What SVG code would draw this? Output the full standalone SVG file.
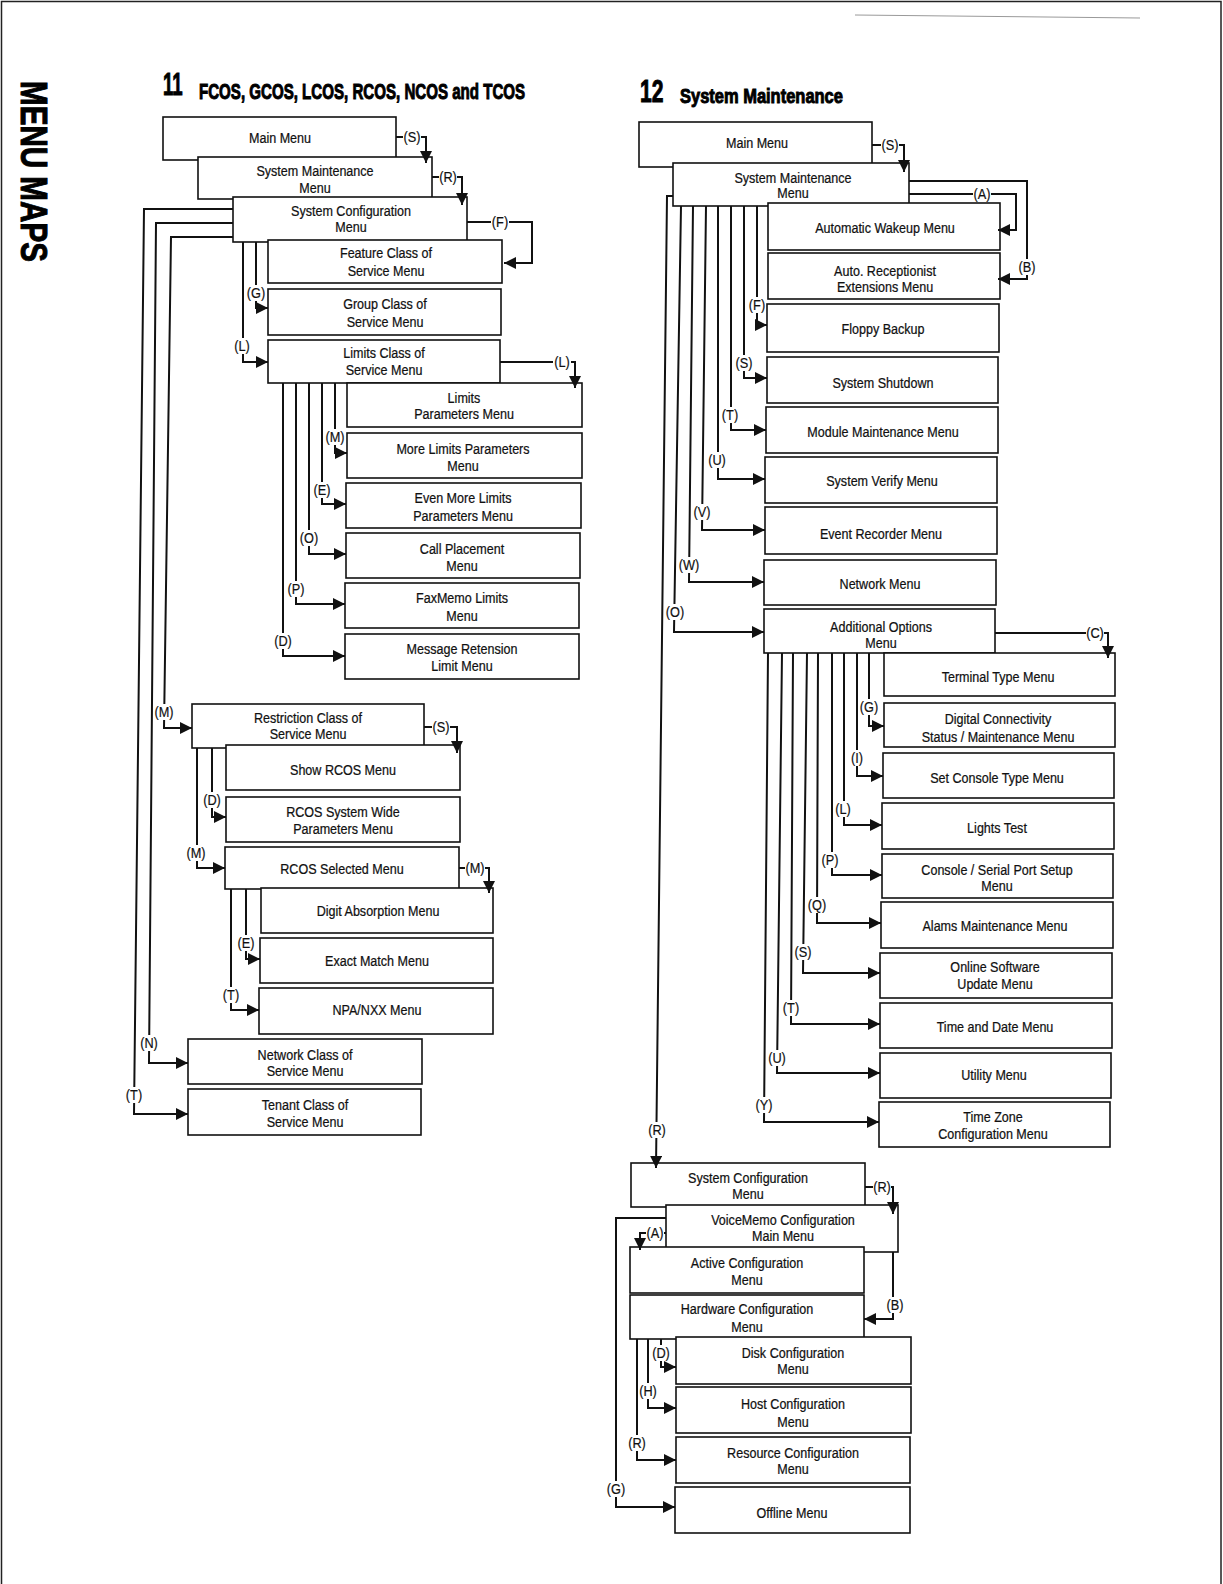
<svg xmlns="http://www.w3.org/2000/svg" width="1223" height="1584" viewBox="0 0 1223 1584">
<style>
.box{fill:#fff;stroke:#111;stroke-width:1.6}
.t{font-family:"Liberation Sans",Arial,sans-serif;font-size:15.5px;text-anchor:middle;fill:#111;stroke:#111;stroke-width:0.25}
.c{fill:none;stroke:#111;stroke-width:2;stroke-linejoin:miter;marker-end:url(#a)}
.lb{fill:#fff}
.lt{font-family:"Liberation Sans",Arial,sans-serif;font-size:15px;text-anchor:middle;fill:#111;stroke:#111;stroke-width:0.2}
.h{font-family:"Liberation Sans",Arial,sans-serif;font-weight:bold;fill:#000;stroke:#000;stroke-width:1}
</style>
<defs>
<marker id="a" viewBox="0 0 10 10" refX="10" refY="5" markerWidth="12" markerHeight="12" markerUnits="userSpaceOnUse" orient="auto"><path d="M0,0 L10,5 L0,10 z" fill="#111"/></marker>
</defs>
<rect width="1223" height="1584" fill="#fff"/>
<path d="M1.5,1584 V1.5 H1221 V1584" fill="none" stroke="#222" stroke-width="1.5"/>
<path d="M855,15 L1140,18" stroke="#999" stroke-width="1"/>
<g transform="translate(21,81) rotate(90) scale(.8 1)"><text class="h" font-size="37">MENU MAPS</text></g>
<g transform="translate(163,95) scale(.6 1)"><text class="h" font-size="31">11</text></g>
<g transform="translate(199,99) scale(.686 1)"><text class="h" font-size="22" stroke-width="0.9">FCOS, GCOS, LCOS, RCOS, NCOS and TCOS</text></g>
<g transform="translate(640,102) scale(.68 1)"><text class="h" font-size="31">12</text></g>
<g transform="translate(680,103) scale(.785 1)"><text class="h" font-size="21" stroke-width="0.9">System Maintenance</text></g>

<g id="left-nodes">
<g id="l-main"><rect class="box" x="163" y="117" width="233" height="43"/><g transform="translate(280 0) scale(.81 1)"><text class="t" y="143">Main Menu</text></g></g>
<g id="l-sysmaint"><rect class="box" x="198" y="157" width="234" height="42"/><g transform="translate(315 0) scale(.81 1)"><text class="t" y="176">System Maintenance</text><text class="t" y="193">Menu</text></g></g>
<g id="l-syscfg"><rect class="box" x="233" y="197" width="234" height="45"/><g transform="translate(351 0) scale(.81 1)"><text class="t" y="216">System Configuration</text><text class="t" y="232">Menu</text></g></g>
<g id="l-fcos"><rect class="box" x="268" y="240" width="234" height="43"/><g transform="translate(386 0) scale(.81 1)"><text class="t" y="258">Feature Class of</text><text class="t" y="276">Service Menu</text></g></g>
<g id="l-gcos"><rect class="box" x="268" y="289" width="233" height="46"/><g transform="translate(385 0) scale(.81 1)"><text class="t" y="309">Group Class of</text><text class="t" y="327">Service Menu</text></g></g>
<g id="l-lcos"><rect class="box" x="268" y="340" width="232" height="43"/><g transform="translate(384 0) scale(.81 1)"><text class="t" y="358">Limits Class of</text><text class="t" y="375">Service Menu</text></g></g>
<g id="l-limparam"><rect class="box" x="347" y="383" width="235" height="44"/><g transform="translate(464 0) scale(.81 1)"><text class="t" y="403">Limits</text><text class="t" y="419">Parameters Menu</text></g></g>
<g id="l-morelim"><rect class="box" x="347" y="433" width="235" height="45"/><g transform="translate(463 0) scale(.81 1)"><text class="t" y="454">More Limits Parameters</text><text class="t" y="471">Menu</text></g></g>
<g id="l-evenmore"><rect class="box" x="346" y="483" width="235" height="45"/><g transform="translate(463 0) scale(.81 1)"><text class="t" y="503">Even More Limits</text><text class="t" y="521">Parameters Menu</text></g></g>
<g id="l-callplace"><rect class="box" x="346" y="533" width="234" height="45"/><g transform="translate(462 0) scale(.81 1)"><text class="t" y="554">Call Placement</text><text class="t" y="571">Menu</text></g></g>
<g id="l-faxmemo"><rect class="box" x="345" y="583" width="234" height="45"/><g transform="translate(462 0) scale(.81 1)"><text class="t" y="603">FaxMemo Limits</text><text class="t" y="621">Menu</text></g></g>
<g id="l-msgret"><rect class="box" x="345" y="634" width="234" height="45"/><g transform="translate(462 0) scale(.81 1)"><text class="t" y="654">Message Retension</text><text class="t" y="671">Limit Menu</text></g></g>
<g id="l-rcos"><rect class="box" x="192" y="704" width="232" height="44"/><g transform="translate(308 0) scale(.81 1)"><text class="t" y="723">Restriction Class of</text><text class="t" y="739">Service Menu</text></g></g>
<g id="l-showrcos"><rect class="box" x="226" y="745" width="234" height="45"/><g transform="translate(343 0) scale(.81 1)"><text class="t" y="775">Show RCOS Menu</text></g></g>
<g id="l-rcoswide"><rect class="box" x="226" y="797" width="234" height="45"/><g transform="translate(343 0) scale(.81 1)"><text class="t" y="817">RCOS System Wide</text><text class="t" y="834">Parameters Menu</text></g></g>
<g id="l-rcossel"><rect class="box" x="225" y="847" width="234" height="42"/><g transform="translate(342 0) scale(.81 1)"><text class="t" y="874">RCOS Selected Menu</text></g></g>
<g id="l-digit"><rect class="box" x="261" y="888" width="232" height="45"/><g transform="translate(378 0) scale(.81 1)"><text class="t" y="916">Digit Absorption Menu</text></g></g>
<g id="l-exact"><rect class="box" x="260" y="938" width="233" height="45"/><g transform="translate(377 0) scale(.81 1)"><text class="t" y="966">Exact Match Menu</text></g></g>
<g id="l-npa"><rect class="box" x="259" y="988" width="234" height="46"/><g transform="translate(377 0) scale(.81 1)"><text class="t" y="1015">NPA/NXX Menu</text></g></g>
<g id="l-ncos"><rect class="box" x="188" y="1039" width="234" height="45"/><g transform="translate(305 0) scale(.81 1)"><text class="t" y="1060">Network Class of</text><text class="t" y="1076">Service Menu</text></g></g>
<g id="l-tcos"><rect class="box" x="188" y="1089" width="233" height="46"/><g transform="translate(305 0) scale(.81 1)"><text class="t" y="1110">Tenant Class of</text><text class="t" y="1127">Service Menu</text></g></g>
</g>

<g id="right-nodes">
<g id="r-main"><rect class="box" x="639" y="122" width="233" height="45"/><g transform="translate(757 0) scale(.81 1)"><text class="t" y="148">Main Menu</text></g></g>
<g id="r-sysmaint"><rect class="box" x="673" y="163" width="236" height="43"/><g transform="translate(793 0) scale(.81 1)"><text class="t" y="183">System Maintenance</text><text class="t" y="198">Menu</text></g></g>
<g id="r-wakeup"><rect class="box" x="768" y="203" width="232" height="47"/><g transform="translate(885 0) scale(.81 1)"><text class="t" y="233">Automatic Wakeup Menu</text></g></g>
<g id="r-autorec"><rect class="box" x="768" y="253" width="232" height="46"/><g transform="translate(885 0) scale(.81 1)"><text class="t" y="276">Auto. Receptionist</text><text class="t" y="292">Extensions Menu</text></g></g>
<g id="r-floppy"><rect class="box" x="767" y="304" width="232" height="48"/><g transform="translate(883 0) scale(.81 1)"><text class="t" y="334">Floppy Backup</text></g></g>
<g id="r-shutdown"><rect class="box" x="767" y="357" width="231" height="46"/><g transform="translate(883 0) scale(.81 1)"><text class="t" y="388">System Shutdown</text></g></g>
<g id="r-module"><rect class="box" x="766" y="407" width="232" height="46"/><g transform="translate(883 0) scale(.81 1)"><text class="t" y="437">Module Maintenance Menu</text></g></g>
<g id="r-verify"><rect class="box" x="765" y="457" width="232" height="46"/><g transform="translate(882 0) scale(.81 1)"><text class="t" y="486">System Verify Menu</text></g></g>
<g id="r-event"><rect class="box" x="765" y="507" width="232" height="47"/><g transform="translate(881 0) scale(.81 1)"><text class="t" y="539">Event Recorder Menu</text></g></g>
<g id="r-network"><rect class="box" x="764" y="560" width="232" height="45"/><g transform="translate(880 0) scale(.81 1)"><text class="t" y="589">Network Menu</text></g></g>
<g id="r-addopt"><rect class="box" x="764" y="609" width="231" height="44"/><g transform="translate(881 0) scale(.81 1)"><text class="t" y="632">Additional Options</text><text class="t" y="648">Menu</text></g></g>
<g id="r-terminal"><rect class="box" x="884" y="653" width="231" height="43"/><g transform="translate(998 0) scale(.81 1)"><text class="t" y="682">Terminal Type Menu</text></g></g>
<g id="r-digital"><rect class="box" x="884" y="703" width="231" height="44"/><g transform="translate(998 0) scale(.81 1)"><text class="t" y="724">Digital Connectivity</text><text class="t" y="742">Status / Maintenance Menu</text></g></g>
<g id="r-console"><rect class="box" x="883" y="753" width="231" height="45"/><g transform="translate(997 0) scale(.81 1)"><text class="t" y="783">Set Console Type Menu</text></g></g>
<g id="r-lights"><rect class="box" x="882" y="803" width="232" height="46"/><g transform="translate(997 0) scale(.81 1)"><text class="t" y="833">Lights Test</text></g></g>
<g id="r-serial"><rect class="box" x="882" y="854" width="231" height="44"/><g transform="translate(997 0) scale(.81 1)"><text class="t" y="875">Console / Serial Port Setup</text><text class="t" y="891">Menu</text></g></g>
<g id="r-alarms"><rect class="box" x="881" y="902" width="232" height="46"/><g transform="translate(995 0) scale(.81 1)"><text class="t" y="931">Alams Maintenance Menu</text></g></g>
<g id="r-online"><rect class="box" x="880" y="953" width="232" height="45"/><g transform="translate(995 0) scale(.81 1)"><text class="t" y="972">Online Software</text><text class="t" y="989">Update Menu</text></g></g>
<g id="r-timedate"><rect class="box" x="880" y="1003" width="232" height="45"/><g transform="translate(995 0) scale(.81 1)"><text class="t" y="1032">Time and Date Menu</text></g></g>
<g id="r-utility"><rect class="box" x="880" y="1053" width="231" height="45"/><g transform="translate(994 0) scale(.81 1)"><text class="t" y="1080">Utility Menu</text></g></g>
<g id="r-timezone"><rect class="box" x="879" y="1102" width="231" height="45"/><g transform="translate(993 0) scale(.81 1)"><text class="t" y="1122">Time Zone</text><text class="t" y="1139">Configuration Menu</text></g></g>
<g id="r-syscfg"><rect class="box" x="631" y="1163" width="234" height="44"/><g transform="translate(748 0) scale(.81 1)"><text class="t" y="1183">System Configuration</text><text class="t" y="1199">Menu</text></g></g>
<g id="r-voicememo"><rect class="box" x="666" y="1205" width="232" height="47"/><g transform="translate(783 0) scale(.81 1)"><text class="t" y="1225">VoiceMemo Configuration</text><text class="t" y="1241">Main Menu</text></g></g>
<g id="r-active"><rect class="box" x="630" y="1247" width="234" height="46"/><g transform="translate(747 0) scale(.81 1)"><text class="t" y="1268">Active Configuration</text><text class="t" y="1285">Menu</text></g></g>
<g id="r-hardware"><rect class="box" x="630" y="1295" width="234" height="44"/><g transform="translate(747 0) scale(.81 1)"><text class="t" y="1314">Hardware Configuration</text><text class="t" y="1332">Menu</text></g></g>
<g id="r-disk"><rect class="box" x="676" y="1337" width="235" height="47"/><g transform="translate(793 0) scale(.81 1)"><text class="t" y="1358">Disk Configuration</text><text class="t" y="1374">Menu</text></g></g>
<g id="r-host"><rect class="box" x="676" y="1387" width="235" height="46"/><g transform="translate(793 0) scale(.81 1)"><text class="t" y="1409">Host Configuration</text><text class="t" y="1427">Menu</text></g></g>
<g id="r-resource"><rect class="box" x="676" y="1437" width="234" height="46"/><g transform="translate(793 0) scale(.81 1)"><text class="t" y="1458">Resource Configuration</text><text class="t" y="1474">Menu</text></g></g>
<g id="r-offline"><rect class="box" x="675" y="1487" width="235" height="46"/><g transform="translate(792 0) scale(.81 1)"><text class="t" y="1518">Offline Menu</text></g></g>
</g>

<g id="connectors">
<path class="c" d="M396,137 H426 V163"/>
<path class="c" d="M432,177 H462 V205"/>
<path class="c" d="M467,222 H532 V263 H504"/>
<path class="c" d="M256,242 V308 H268"/>
<path class="c" d="M243,242 V362 H268"/>
<path class="c" d="M500,362 H575 V388"/>
<path class="c" d="M335,383 V453 H347"/>
<path class="c" d="M322,383 V504 H346"/>
<path class="c" d="M309,383 V554 H346"/>
<path class="c" d="M296,383 V604 H345"/>
<path class="c" d="M283,383 V656 H345"/>
<path class="c" d="M233,237 H171 L164,728 H192"/>
<path class="c" d="M233,223 H156 L149,1063 H188"/>
<path class="c" d="M233,209 H144 L134,1114 H188"/>
<path class="c" d="M424,727 H457 V753"/>
<path class="c" d="M212,748 V817 H226"/>
<path class="c" d="M197,748 V868 H225"/>
<path class="c" d="M459,868 H489 V893"/>
<path class="c" d="M246,889 V959 H260"/>
<path class="c" d="M231,889 V1010 H259"/>
<path class="c" d="M872,145 H904 V172"/>
<path class="c" d="M909,194 H1016 V230 H998"/>
<path class="c" d="M909,181 H1027 V279 H998"/>
<path class="c" d="M757,206 V325 H767"/>
<path class="c" d="M744,206 V378 H767"/>
<path class="c" d="M731,206 V430 H766"/>
<path class="c" d="M718,206 V479 H765"/>
<path class="c" d="M706,206 L702,530 H765"/>
<path class="c" d="M693,206 L689,582 H764"/>
<path class="c" d="M681,206 L674,632 H764"/>
<path class="c" d="M673,196 H667 L656,1168"/>
<path class="c" d="M995,633 H1108 V658"/>
<path class="c" d="M869,653 V726 H884"/>
<path class="c" d="M857,653 V776 H883"/>
<path class="c" d="M844,653 V825 H882"/>
<path class="c" d="M832,653 V875 H882"/>
<path class="c" d="M818,653 L817,923 H881"/>
<path class="c" d="M807,653 L803,973 H880"/>
<path class="c" d="M793,653 L791,1024 H880"/>
<path class="c" d="M782,653 L777,1073 H880"/>
<path class="c" d="M768,653 L764,1122 H879"/>
<path class="c" d="M865,1187 H893 V1214"/>
<path class="c" d="M666,1233 H640 V1250"/>
<path class="c" d="M666,1218 H616 V1507 H675"/>
<path class="c" d="M893,1252 V1319 H864"/>
<path class="c" d="M661,1339 V1367 H676"/>
<path class="c" d="M648,1339 V1408 H676"/>
<path class="c" d="M637,1339 V1460 H676"/>
</g>

<g id="connector-labels">
<g transform="translate(412,137)"><rect class="lb" x="-9" y="-8" width="18" height="16"/><g transform="scale(.85 1)"><text class="lt" y="5">(S)</text></g></g>
<g transform="translate(448,177)"><rect class="lb" x="-9" y="-8" width="18" height="16"/><g transform="scale(.85 1)"><text class="lt" y="5">(R)</text></g></g>
<g transform="translate(500,222)"><rect class="lb" x="-9" y="-8" width="18" height="16"/><g transform="scale(.85 1)"><text class="lt" y="5">(F)</text></g></g>
<g transform="translate(256,293)"><rect class="lb" x="-9" y="-8" width="18" height="16"/><g transform="scale(.85 1)"><text class="lt" y="5">(G)</text></g></g>
<g transform="translate(242,346)"><rect class="lb" x="-9" y="-8" width="18" height="16"/><g transform="scale(.85 1)"><text class="lt" y="5">(L)</text></g></g>
<g transform="translate(562,362)"><rect class="lb" x="-9" y="-8" width="18" height="16"/><g transform="scale(.85 1)"><text class="lt" y="5">(L)</text></g></g>
<g transform="translate(335,437)"><rect class="lb" x="-10" y="-8" width="20" height="16"/><g transform="scale(.85 1)"><text class="lt" y="5">(M)</text></g></g>
<g transform="translate(322,490)"><rect class="lb" x="-9" y="-8" width="18" height="16"/><g transform="scale(.85 1)"><text class="lt" y="5">(E)</text></g></g>
<g transform="translate(309,538)"><rect class="lb" x="-9" y="-8" width="18" height="16"/><g transform="scale(.85 1)"><text class="lt" y="5">(O)</text></g></g>
<g transform="translate(296,589)"><rect class="lb" x="-9" y="-8" width="18" height="16"/><g transform="scale(.85 1)"><text class="lt" y="5">(P)</text></g></g>
<g transform="translate(283,641)"><rect class="lb" x="-9" y="-8" width="18" height="16"/><g transform="scale(.85 1)"><text class="lt" y="5">(D)</text></g></g>
<g transform="translate(164,712)"><rect class="lb" x="-10" y="-8" width="20" height="16"/><g transform="scale(.85 1)"><text class="lt" y="5">(M)</text></g></g>
<g transform="translate(149,1043)"><rect class="lb" x="-9" y="-8" width="18" height="16"/><g transform="scale(.85 1)"><text class="lt" y="5">(N)</text></g></g>
<g transform="translate(134,1095)"><rect class="lb" x="-9" y="-8" width="18" height="16"/><g transform="scale(.85 1)"><text class="lt" y="5">(T)</text></g></g>
<g transform="translate(441,727)"><rect class="lb" x="-9" y="-8" width="18" height="16"/><g transform="scale(.85 1)"><text class="lt" y="5">(S)</text></g></g>
<g transform="translate(212,800)"><rect class="lb" x="-9" y="-8" width="18" height="16"/><g transform="scale(.85 1)"><text class="lt" y="5">(D)</text></g></g>
<g transform="translate(196,853)"><rect class="lb" x="-10" y="-8" width="20" height="16"/><g transform="scale(.85 1)"><text class="lt" y="5">(M)</text></g></g>
<g transform="translate(475,868)"><rect class="lb" x="-10" y="-8" width="20" height="16"/><g transform="scale(.85 1)"><text class="lt" y="5">(M)</text></g></g>
<g transform="translate(246,943)"><rect class="lb" x="-9" y="-8" width="18" height="16"/><g transform="scale(.85 1)"><text class="lt" y="5">(E)</text></g></g>
<g transform="translate(231,995)"><rect class="lb" x="-9" y="-8" width="18" height="16"/><g transform="scale(.85 1)"><text class="lt" y="5">(T)</text></g></g>
<g transform="translate(890,145)"><rect class="lb" x="-9" y="-8" width="18" height="16"/><g transform="scale(.85 1)"><text class="lt" y="5">(S)</text></g></g>
<g transform="translate(982,194)"><rect class="lb" x="-9" y="-8" width="18" height="16"/><g transform="scale(.85 1)"><text class="lt" y="5">(A)</text></g></g>
<g transform="translate(1027,267)"><rect class="lb" x="-9" y="-8" width="18" height="16"/><g transform="scale(.85 1)"><text class="lt" y="5">(B)</text></g></g>
<g transform="translate(757,305)"><rect class="lb" x="-9" y="-8" width="18" height="16"/><g transform="scale(.85 1)"><text class="lt" y="5">(F)</text></g></g>
<g transform="translate(744,363)"><rect class="lb" x="-9" y="-8" width="18" height="16"/><g transform="scale(.85 1)"><text class="lt" y="5">(S)</text></g></g>
<g transform="translate(730,415)"><rect class="lb" x="-9" y="-8" width="18" height="16"/><g transform="scale(.85 1)"><text class="lt" y="5">(T)</text></g></g>
<g transform="translate(717,460)"><rect class="lb" x="-9" y="-8" width="18" height="16"/><g transform="scale(.85 1)"><text class="lt" y="5">(U)</text></g></g>
<g transform="translate(702,512)"><rect class="lb" x="-9" y="-8" width="18" height="16"/><g transform="scale(.85 1)"><text class="lt" y="5">(V)</text></g></g>
<g transform="translate(689,565)"><rect class="lb" x="-10" y="-8" width="20" height="16"/><g transform="scale(.85 1)"><text class="lt" y="5">(W)</text></g></g>
<g transform="translate(675,612)"><rect class="lb" x="-9" y="-8" width="18" height="16"/><g transform="scale(.85 1)"><text class="lt" y="5">(O)</text></g></g>
<g transform="translate(657,1130)"><rect class="lb" x="-9" y="-8" width="18" height="16"/><g transform="scale(.85 1)"><text class="lt" y="5">(R)</text></g></g>
<g transform="translate(1095,633)"><rect class="lb" x="-9" y="-8" width="18" height="16"/><g transform="scale(.85 1)"><text class="lt" y="5">(C)</text></g></g>
<g transform="translate(869,707)"><rect class="lb" x="-9" y="-8" width="18" height="16"/><g transform="scale(.85 1)"><text class="lt" y="5">(G)</text></g></g>
<g transform="translate(857,758)"><rect class="lb" x="-8" y="-8" width="16" height="16"/><g transform="scale(.85 1)"><text class="lt" y="5">(I)</text></g></g>
<g transform="translate(843,809)"><rect class="lb" x="-9" y="-8" width="18" height="16"/><g transform="scale(.85 1)"><text class="lt" y="5">(L)</text></g></g>
<g transform="translate(830,860)"><rect class="lb" x="-9" y="-8" width="18" height="16"/><g transform="scale(.85 1)"><text class="lt" y="5">(P)</text></g></g>
<g transform="translate(817,905)"><rect class="lb" x="-9" y="-8" width="18" height="16"/><g transform="scale(.85 1)"><text class="lt" y="5">(Q)</text></g></g>
<g transform="translate(803,952)"><rect class="lb" x="-9" y="-8" width="18" height="16"/><g transform="scale(.85 1)"><text class="lt" y="5">(S)</text></g></g>
<g transform="translate(791,1008)"><rect class="lb" x="-9" y="-8" width="18" height="16"/><g transform="scale(.85 1)"><text class="lt" y="5">(T)</text></g></g>
<g transform="translate(777,1058)"><rect class="lb" x="-9" y="-8" width="18" height="16"/><g transform="scale(.85 1)"><text class="lt" y="5">(U)</text></g></g>
<g transform="translate(764,1105)"><rect class="lb" x="-9" y="-8" width="18" height="16"/><g transform="scale(.85 1)"><text class="lt" y="5">(Y)</text></g></g>
<g transform="translate(882,1187)"><rect class="lb" x="-9" y="-8" width="18" height="16"/><g transform="scale(.85 1)"><text class="lt" y="5">(R)</text></g></g>
<g transform="translate(655,1233)"><rect class="lb" x="-9" y="-8" width="18" height="16"/><g transform="scale(.85 1)"><text class="lt" y="5">(A)</text></g></g>
<g transform="translate(616,1489)"><rect class="lb" x="-9" y="-8" width="18" height="16"/><g transform="scale(.85 1)"><text class="lt" y="5">(G)</text></g></g>
<g transform="translate(895,1305)"><rect class="lb" x="-9" y="-8" width="18" height="16"/><g transform="scale(.85 1)"><text class="lt" y="5">(B)</text></g></g>
<g transform="translate(661,1353)"><rect class="lb" x="-9" y="-8" width="18" height="16"/><g transform="scale(.85 1)"><text class="lt" y="5">(D)</text></g></g>
<g transform="translate(648,1391)"><rect class="lb" x="-9" y="-8" width="18" height="16"/><g transform="scale(.85 1)"><text class="lt" y="5">(H)</text></g></g>
<g transform="translate(637,1443)"><rect class="lb" x="-9" y="-8" width="18" height="16"/><g transform="scale(.85 1)"><text class="lt" y="5">(R)</text></g></g>
</g>
</svg>
